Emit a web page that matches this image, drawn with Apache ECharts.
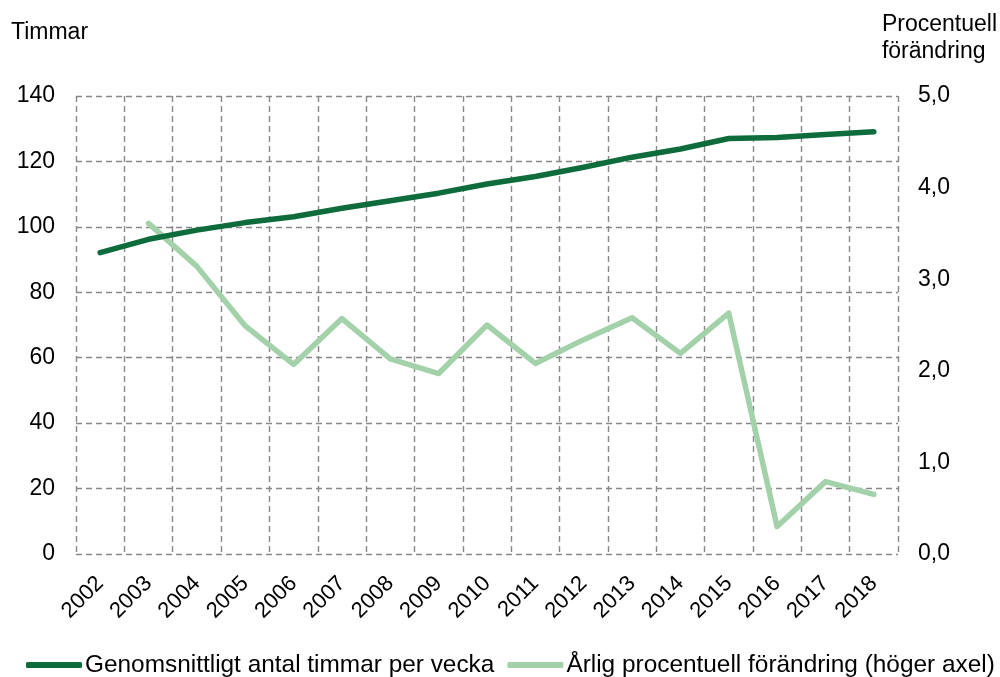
<!DOCTYPE html>
<html>
<head>
<meta charset="utf-8">
<script src="https://cdn.jsdelivr.net/npm/echarts@6/dist/echarts.min.js"></script>
<style>html,body{margin:0;padding:0;background:#fff;}#c{width:1000px;height:677px;}</style>
</head>
<body>
<div id="c"></div>
<script>
const years = ['2002','2003','2004','2005','2006','2007','2008','2009','2010','2011','2012','2013','2014','2015','2016','2017','2018'];
const hoursPerWeek = [92.1, 96.2, 99.0, 101.3, 103.1, 105.7, 108.0, 110.3, 113.1, 115.4, 118.2, 121.3, 123.8, 127.0, 127.3, 128.2, 129.1];
const annualChange = [null, 3.61, 3.14, 2.49, 2.07, 2.57, 2.13, 1.97, 2.50, 2.08, 2.34, 2.58, 2.19, 2.63, 0.30, 0.79, 0.65];
const leftTicks = {min: 0, max: 140, interval: 20};
const rightTicks = {min: 0, max: 5, interval: 1};
const seriesNames = ['Genomsnittligt antal timmar per vecka', 'Årlig procentuell förändring (höger axel)'];

const FONT = '"Liberation Sans", Arial, sans-serif';
const chart = echarts.init(document.getElementById('c'));
chart.setOption({
  animation: false,
  textStyle: {fontFamily: FONT, color: '#000'},
  title: [
    {text: 'Timmar', left: 11, top: 21, padding: 0, textStyle: {fontFamily: FONT, fontSize: 23, fontWeight: 'normal', color: '#000'}},
    {text: 'Procentuell\nförändring', right: 3, top: 11, padding: 0,
     textStyle: {fontFamily: FONT, fontSize: 23, fontWeight: 'normal', color: '#000', lineHeight: 27, align: 'center'}}
  ],
  grid: {left: 76, right: 102, top: 96, bottom: 123, containLabel: false},
  legend: {
    left: 26, top: 653, itemGap: 13, itemWidth: 56, itemHeight: 6, padding: 0,
    textStyle: {fontFamily: FONT, fontSize: 24.4, color: '#000', padding: [0,0,0,-2]},
    data: [
      {name: seriesNames[0], icon: 'roundRect'},
      {name: seriesNames[1], icon: 'roundRect'}
    ]
  },
  xAxis: {
    type: 'category', data: years, boundaryGap: true,
    axisLine: {show: false}, axisTick: {show: false},
    axisLabel: {rotate: 45, fontSize: 22, fontFamily: FONT, color: '#000', margin: 26, interval: 0},
    splitLine: {show: true, interval: 0, lineStyle: {color: '#888', type: [6, 4], width: 1.4}}
  },
  yAxis: [
    {type: 'value', min: leftTicks.min, max: leftTicks.max, interval: leftTicks.interval,
     axisLine: {show: false}, axisTick: {show: false},
     axisLabel: {fontSize: 23, fontFamily: FONT, color: '#000', margin: 21},
     splitLine: {show: true, lineStyle: {color: '#888', type: [6, 4], width: 1.4}}},
    {type: 'value', min: rightTicks.min, max: rightTicks.max, interval: rightTicks.interval, position: 'right',
     axisLine: {show: false}, axisTick: {show: false},
     axisLabel: {fontSize: 23, fontFamily: FONT, color: '#000', margin: 20,
       formatter: v => v.toFixed(1).replace('.', ',')},
     splitLine: {show: false}}
  ],
  series: [
    {name: seriesNames[0], type: 'line', yAxisIndex: 0, data: hoursPerWeek, symbol: 'none',
     lineStyle: {color: '#0e6b3b', width: 5.5, cap: 'round', join: 'round'}, itemStyle: {color: '#0e6b3b'}, z: 3},
    {name: seriesNames[1], type: 'line', yAxisIndex: 1, data: annualChange, symbol: 'none',
     lineStyle: {color: '#a3d1a9', width: 5.5, cap: 'round', join: 'round'}, itemStyle: {color: '#a3d1a9'}, z: 2}
  ]
});
</script>
</body>
</html>
